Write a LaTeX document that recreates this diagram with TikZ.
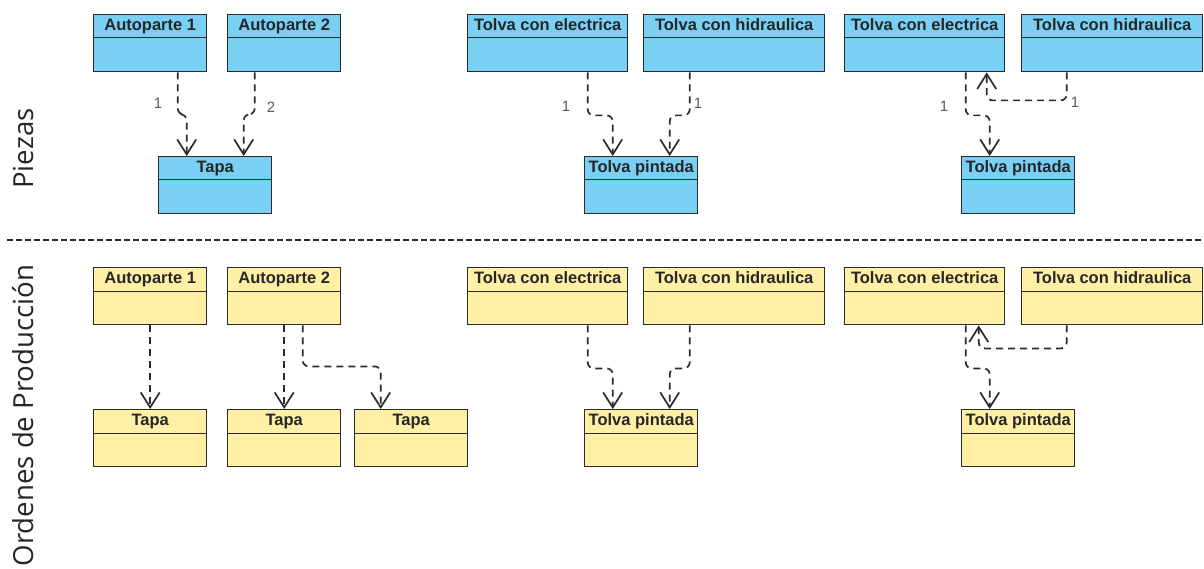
\documentclass[tikz,border=0pt]{standalone}
\usepackage{fontspec}
\setmainfont{Liberation Sans}
\newfontfamily\sidefont{Open Sans}
\usetikzlibrary{arrows.meta}
\definecolor{blueF}{HTML}{79CFF4}
\definecolor{yellowF}{HTML}{FFF0A6}
\definecolor{lineC}{HTML}{2B2B2B}
\definecolor{labC}{HTML}{5A5A5A}
\tikzset{
  clsbox/.style={draw=lineC, line width=1.4pt, rectangle, inner sep=0pt, minimum height=57pt, anchor=north west},
  clssep/.style={draw=lineC, line width=1pt},
  clstext/.style={anchor=base, inner sep=0pt, font=\fontsize{16.5}{18}\selectfont\bfseries, text=black!85},
  dep/.style={draw=lineC, line width=1.7pt, dash pattern=on 7pt off 5pt, rounded corners=6pt,
    -{Straight Barb[length=15pt,width=19pt,line width=1.7pt]}},
  mult/.style={inner sep=0pt, font=\fontsize{15}{17}\selectfont, text=labC},
  sidelab/.style={rotate=90, anchor=base, inner sep=0pt, font=\sidefont\fontsize{27.6}{30}\selectfont, text=black!85},
}
% #1 name, #2 x, #3 y, #4 width, #5 fill, #6 text
\newcommand\umlcls[6]{%
  \node[clsbox, fill=#5, minimum width=#4] (#1) at (#2,#3) {};
  \draw[clssep] ([yshift=-24pt]#1.north west) -- ([yshift=-24pt]#1.north east);
  \node[clstext] (#1t) at ([yshift=-16.5pt]#1.north) {#6};
}
\begin{document}
\begin{tikzpicture}[x=1pt,y=-1pt]
\useasboundingbox (0,0) rectangle (1204,569);

% side labels
\node[sidelab] (lpiezas) at (33,148.5) {Piezas};
\node[sidelab] (lordenes) at (33,415.5) {Ordenes de Producción};

% divider
\coordinate (dl) at (7,240);
\coordinate (dr) at (1204,240);
\draw[lineC, line width=1.4pt, dash pattern=on 6pt off 3pt] (dl) -- (dr);

% ---------- Piezas ----------
\umlcls{pa1}{93}{14}{113}{blueF}{Autoparte 1}
\umlcls{pa2}{227}{14}{113}{blueF}{Autoparte 2}
\umlcls{ptapa}{158}{156}{113}{blueF}{Tapa}
\umlcls{pe1}{467}{14}{160}{blueF}{Tolva con electrica}
\umlcls{ph1}{643}{14}{181}{blueF}{Tolva con hidraulica}
\umlcls{pp1}{584}{156}{113}{blueF}{Tolva pintada}
\umlcls{pe2}{844}{14}{160}{blueF}{Tolva con electrica}
\umlcls{ph2}{1021}{14}{181}{blueF}{Tolva con hidraulica}
\umlcls{pp2}{961}{156}{113}{blueF}{Tolva pintada}

\draw[dep] ([xshift=27.5pt]pa1.south) -- ++(0,42) -| ([xshift=-28.5pt]ptapa.north);
\draw[dep] ([xshift=-29.5pt]pa2.south) -- ++(0,42) -| ([xshift=28.5pt]ptapa.north);
\draw[dep] ([xshift=40pt]pe1.south) -- ++(0,43) -| ([xshift=-28.5pt]pp1.north);
\draw[dep] ([xshift=-44.5pt]ph1.south) -- ++(0,43) -| ([xshift=28.5pt]pp1.north);
\draw[dep] ([xshift=41pt]pe2.south) -- ++(0,43) -| ([xshift=-28.5pt]pp2.north);
\draw[dep] ([xshift=-45.5pt]ph2.south) -- ++(0,28) -| ([xshift=62pt]pe2.south);

\node[mult] (m1) at (158,103) {1};
\node[mult] (m2) at (271,107) {2};
\node[mult] (m3) at (566,106) {1};
\node[mult] (m4) at (698,103) {1};
\node[mult] (m5) at (944,106) {1};
\node[mult] (m6) at (1075,102) {1};

% ---------- Ordenes de Produccion ----------
\umlcls{oa1}{93}{267}{113}{yellowF}{Autoparte 1}
\umlcls{oa2}{227}{267}{113}{yellowF}{Autoparte 2}
\umlcls{ot1}{93}{409}{113}{yellowF}{Tapa}
\umlcls{ot2}{227}{409}{113}{yellowF}{Tapa}
\umlcls{ot3}{354}{409}{113}{yellowF}{Tapa}
\umlcls{oe1}{467}{267}{160}{yellowF}{Tolva con electrica}
\umlcls{oh1}{643}{267}{181}{yellowF}{Tolva con hidraulica}
\umlcls{op1}{584}{409}{113}{yellowF}{Tolva pintada}
\umlcls{oe2}{844}{267}{160}{yellowF}{Tolva con electrica}
\umlcls{oh2}{1021}{267}{181}{yellowF}{Tolva con hidraulica}
\umlcls{op2}{961}{409}{113}{yellowF}{Tolva pintada}

\draw[dep] (oa1.south) -- (ot1.north);
\draw[dep] (oa2.south) -- (ot2.north);
\draw[dep] ([xshift=18.5pt]oa2.south) -- ++(0,41) -| ([xshift=-30.5pt]ot3.north);
\draw[dep] ([xshift=40pt]oe1.south) -- ++(0,43) -| ([xshift=-28.5pt]op1.north);
\draw[dep] ([xshift=-44.5pt]oh1.south) -- ++(0,43) -| ([xshift=28.5pt]op1.north);
\draw[dep] ([xshift=41pt]oe2.south) -- ++(0,43) -| ([xshift=-28.5pt]op2.north);
\draw[dep] ([xshift=-45.5pt]oh2.south) -- ++(0,23) -| ([xshift=54pt]oe2.south);
\end{tikzpicture}
\end{document}
